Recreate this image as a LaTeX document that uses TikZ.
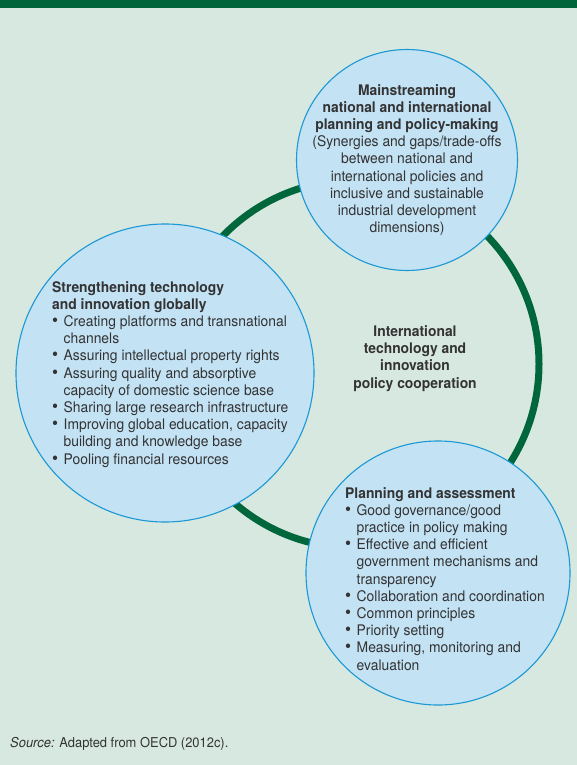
\documentclass[tikz,border=0pt]{standalone}
\usepackage{fontspec}
\setmainfont{TeX Gyre Heros}[FakeStretch=0.95]
\usetikzlibrary{positioning}
\definecolor{bgmint}{HTML}{D7E8E0}
\definecolor{bandgreen}{HTML}{00653A}
\definecolor{ringgreen}{HTML}{00663B}
\definecolor{bubblefill}{HTML}{C3E2F4}
\definecolor{bubbleline}{HTML}{1B98D5}
\definecolor{inktext}{HTML}{333333}
\newcommand{\bul}{\makebox[11.5pt][l]{\fontsize{18}{17.2}\selectfont\textbullet}}
\newcommand{\hang}{\hspace*{11.5pt}}
\tikzset{
  bubble/.style={circle, draw=bubbleline, fill=bubblefill, line width=1.1pt, inner sep=0pt},
  bubbletext/.style={inner sep=0pt, text=inktext, font=\fontsize{14.6}{17.2}\selectfont},
}

\begin{document}
\begin{tikzpicture}[x=1pt, y=-1pt]
    % panel and header band
    \fill[bgmint] (0,0) rectangle (577,765);
    \fill[bandgreen] (0,0) rectangle (577,8);
    \useasboundingbox (0,0) rectangle (577,765);

    % cooperation ring behind the bubbles
    \node (ring) [circle, draw=ringgreen, line width=7pt, minimum size=368pt, inner sep=0pt] at (355,364) {};

    % the three bubbles
    \node (mainstream) [bubble, minimum size=221pt] at (407,160) {};
    \node (strength) [bubble, minimum size=298pt] at (165,373) {};
    \node (planning) [bubble, minimum size=264pt] at (438,573) {};

    % texts (anchored on the last baseline)
    \node (mainstreamtext) [bubbletext, align=center, anchor=base] at (407,232.6)
        {\textbf{Mainstreaming}\\
         \textbf{national and international}\\
         \textbf{planning and policy-making}\\
         (Synergies and gaps/trade-offs\\
         between national and\\
         international policies and\\
         inclusive and sustainable\\
         industrial development\\
         dimensions)};
    \node (strengthtext) [bubbletext, align=left, anchor=base west] at (52,464)
        {\textbf{Strengthening technology}\\
         \textbf{and innovation globally}\\
         \bul Creating platforms and transnational\\
         \hang channels\\
         \bul Assuring intellectual property rights\\
         \bul Assuring quality and absorptive\\
         \hang capacity of domestic science base\\
         \bul Sharing large research infrastructure\\
         \bul Improving global education, capacity\\
         \hang building and knowledge base\\
         \bul Pooling financial resources};
    \node (planningtext) [bubbletext, align=left, anchor=base west] at (345,670)
        {\textbf{Planning and assessment}\\
         \bul Good governance/good\\
         \hang practice in policy making\\
         \bul Effective and efficient\\
         \hang government mechanisms and\\
         \hang transparency\\
         \bul Collaboration and coordination\\
         \bul Common principles\\
         \bul Priority setting\\
         \bul Measuring, monitoring and\\
         \hang evaluation};
    \node (hub) [bubbletext, align=center, anchor=base, font=\fontsize{14.6}{17.3}\selectfont\bfseries] at (415,388)
        {International\\
         technology and\\
         innovation\\
         policy cooperation};

    % source line
    \node (source) [bubbletext, anchor=base west, font=\fontsize{13.6}{15}\selectfont] at (10,747)
        {\textit{Source:} Adapted from OECD (2012c).};
\end{tikzpicture}
\end{document}
